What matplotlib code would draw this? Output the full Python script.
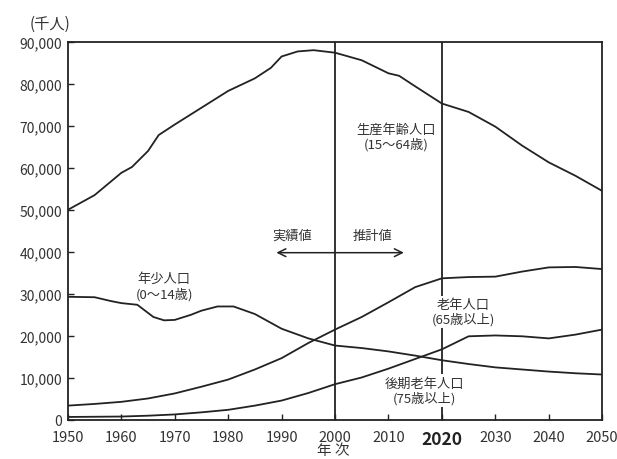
import matplotlib
matplotlib.use("Agg")
import matplotlib.pyplot as plt

plt.rcParams['font.family'] = ['Noto Sans CJK JP', 'DejaVu Sans']

# 生産年齢人口 (15~64歳)
prod_years = [1950, 1955, 1960, 1962, 1965, 1967, 1970, 1975, 1980, 1985, 1988, 1990,
              1993, 1996, 2000, 2005, 2010, 2012, 2015, 2020, 2025, 2030, 2035, 2040, 2045, 2050]
prod = [50000, 53500, 58800, 60200, 64000, 67800, 70300, 74300, 78300, 81300, 83800, 86500,
        87700, 88000, 87400, 85600, 82500, 81900, 79400, 75300, 73300, 69800, 65300, 61300, 58100, 54500]

# 年少人口 (0~14歳)
child_years = [1950, 1955, 1958, 1960, 1963, 1966, 1968, 1970, 1973, 1975, 1978, 1981, 1985,
               1990, 1995, 2000, 2005, 2010, 2015, 2020, 2025, 2030, 2035, 2040, 2045, 2050]
child = [29300, 29200, 28300, 27800, 27400, 24500, 23700, 23800, 25000, 26000, 27000, 27000, 25200,
         21700, 19400, 17700, 17100, 16300, 15300, 14200, 13300, 12500, 12000, 11500, 11100, 10800]

# 老年人口 (65歳以上) / 後期老年人口 (75歳以上)
years = [1950, 1955, 1960, 1965, 1970, 1975, 1980, 1985, 1990, 1995, 2000,
         2005, 2010, 2015, 2020, 2025, 2030, 2035, 2040, 2045, 2050]
old = [3400, 3800, 4300, 5100, 6300, 7900, 9600, 12000, 14700, 18300, 21500,
       24500, 28000, 31600, 33700, 34000, 34100, 35300, 36300, 36400, 35900]
old75 = [700, 750, 800, 1000, 1300, 1800, 2400, 3400, 4600, 6400, 8500,
         10100, 12200, 14500, 16800, 19900, 20100, 19900, 19400, 20300, 21500]

xticks = [1950, 1960, 1970, 1980, 1990, 2000, 2010, 2020, 2030, 2040, 2050]
yticks = [0, 10000, 20000, 30000, 40000, 50000, 60000, 70000, 80000, 90000]

ink = '#222222'
txt = '#333333'

fig = plt.figure(figsize=(6.17, 4.60), dpi=100)
ax = fig.add_axes([0.110, 0.085, 0.866, 0.822])

for xs, ys in [(prod_years, prod), (child_years, child), (years, old), (years, old75)]:
    ax.plot(xs, ys, color=ink, lw=1.3, zorder=3)

ax.axvline(2000, color=ink, lw=1.3, zorder=2)
ax.axvline(2020, color=ink, lw=1.3, zorder=2)

ax.set_xlim(1950, 2050)
ax.set_ylim(0, 90000)
ax.set_xticks(xticks)
ax.set_yticks(yticks)
ax.set_yticklabels([f"{v:,}" for v in yticks], fontsize=10, color=txt)
ax.set_xticklabels([str(v) for v in xticks], fontsize=10.5, color=txt)
ax.tick_params(direction='in', length=4, width=1, colors=ink, top=False, right=False)
ax.tick_params(axis='x', pad=7)
ax.tick_params(axis='y', pad=4)
for lab in ax.get_xticklabels() + ax.get_yticklabels():
    lab.set_color(txt)
for lab in ax.get_xticklabels():
    if lab.get_text() == '2020':
        lab.set_fontsize(12.5)
        lab.set_fontweight('bold')
        lab.set_color(ink)
for s in ax.spines.values():
    s.set_color(ink)
    s.set_linewidth(1.3)

box = dict(facecolor='white', edgecolor='none', pad=1.5)
fs = 9.5
ax.text(2011.5, 67500, "生産年齢人口\n(15〜64歳)", ha='center', va='center', fontsize=fs,
        color=txt, linespacing=1.15, bbox=box, zorder=5)
# 年少人口 label: no box so the curve below stays whole
ax.text(1968, 31800, "年少人口\n(0〜14歳)", ha='center', va='center', fontsize=fs,
        color=txt, linespacing=1.15, zorder=5)
ax.text(2024, 25700, "老年人口\n(65歳以上)", ha='center', va='center', fontsize=fs,
        color=txt, linespacing=1.15, bbox=box, zorder=5)
ax.text(2016.7, 7000, "後期老年人口\n(75歳以上)", ha='center', va='center', fontsize=fs,
        color=txt, linespacing=1.15, bbox=box, zorder=5)

ax.text(1992, 44000, "実績値", ha='center', va='center', fontsize=fs, color=txt)
ax.text(2007, 44000, "推計値", ha='center', va='center', fontsize=fs, color=txt)
ax.annotate("", xy=(1988.5, 39800), xytext=(2013.4, 39800),
            arrowprops=dict(arrowstyle='<->', color=ink, lw=1.1, mutation_scale=14))

fig.text(50 / 617, 1 - 24 / 460, "(千人)", ha='center', va='center', fontsize=11, color=txt)
fig.text(333 / 617, 1 - 451 / 460, "年 次", ha='center', va='center', fontsize=10.5, color=txt)

fig.savefig("out.png", dpi=100)
